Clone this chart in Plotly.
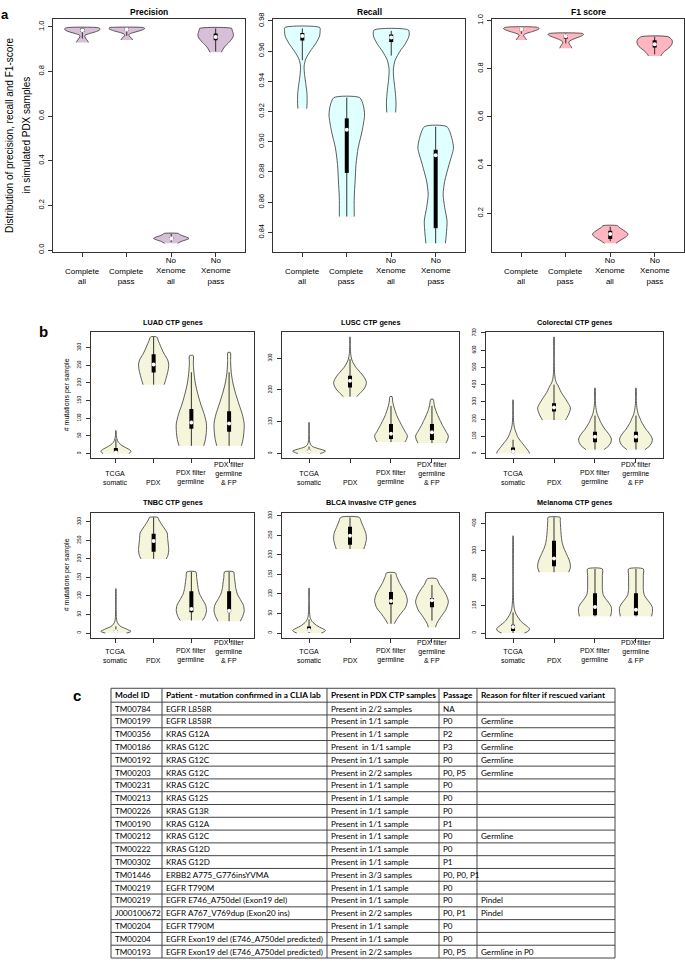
import plotly.graph_objects as go

W, H = 685, 962

# ------------------------------------------------------------------ data
A_CATS = ["Complete<br>all", "Complete<br>pass", "No<br>Xenome<br>all", "No<br>Xenome<br>pass"]
B_CATS = ["TCGA<br>somatic", "PDX", "PDX filter<br>germline", "PDX filter<br>germline<br>& FP"]

# panel a: violin profiles (value levels, relative half-widths) and box stats [whisker lo, q1, median, q3, whisker hi]
PREC_Y = [[0.930, 0.937, 0.945, 0.955, 0.962, 0.970, 0.978, 0.986, 0.991, 0.996],
          [0.941, 0.948, 0.955, 0.962, 0.968, 0.975, 0.983, 0.990, 0.994, 0.997],
          [0.030, 0.038, 0.046, 0.052, 0.058, 0.065, 0.070, 0.074],
          [0.886, 0.895, 0.905, 0.915, 0.925, 0.935, 0.945, 0.955, 0.965, 0.975, 0.985, 0.993]]
PREC_W = [[0.34, 0.30, 0.22, 0.14, 0.15, 0.40, 0.75, 0.97, 1.00, 0.90],
          [0.33, 0.28, 0.18, 0.12, 0.15, 0.40, 0.75, 0.98, 1.00, 0.92],
          [0.37, 0.55, 0.85, 1.00, 0.85, 0.60, 0.47, 0.42],
          [0.32, 0.38, 0.45, 0.55, 0.68, 0.80, 0.90, 0.98, 1.00, 0.97, 0.93, 0.90]]
PREC_BOX = [[0.948, 0.978, 0.985, 0.993, 0.996],
            [0.960, 0.982, 0.988, 0.994, 0.997],
            [0.035, 0.048, 0.052, 0.058, 0.072],
            [0.890, 0.940, 0.955, 0.970, 0.993]]

REC_Y = [[0.922, 0.927, 0.932, 0.938, 0.944, 0.950, 0.955, 0.960, 0.965, 0.970, 0.973, 0.9756],
         [0.8505, 0.863, 0.874, 0.885, 0.896, 0.907, 0.9177, 0.924, 0.9292],
         [0.9194, 0.925, 0.930, 0.936, 0.942, 0.948, 0.954, 0.960, 0.965, 0.970, 0.9739],
         [0.8328, 0.839, 0.8476, 0.8564, 0.8652, 0.874, 0.8848, 0.8958, 0.9023, 0.910]]
REC_W = [[0.25, 0.27, 0.26, 0.20, 0.13, 0.10, 0.20, 0.45, 0.75, 0.97, 1.00, 0.98],
         [0.42, 0.42, 0.47, 0.52, 0.64, 0.86, 1.00, 0.93, 0.73],
         [0.25, 0.27, 0.25, 0.20, 0.14, 0.12, 0.22, 0.50, 0.80, 1.00, 0.97],
         [0.55, 0.60, 0.64, 0.51, 0.42, 0.51, 0.75, 1.00, 0.91, 0.63]]
REC_BOX = [[0.954, 0.967, 0.970, 0.972, 0.975],
           [0.8505, 0.8794, 0.908, 0.9155, 0.9292],
           [0.957, 0.966, 0.969, 0.971, 0.9734],
           [0.8328, 0.8428, 0.891, 0.8947, 0.910]]

F1_Y = [[0.919, 0.925, 0.932, 0.940, 0.947, 0.953, 0.960, 0.966, 0.971],
        [0.885, 0.892, 0.900, 0.907, 0.914, 0.922, 0.929, 0.936, 0.942, 0.946],
        [0.076, 0.085, 0.095, 0.105, 0.115, 0.125, 0.135, 0.142, 0.149],
        [0.853, 0.862, 0.872, 0.882, 0.892, 0.902, 0.912, 0.922, 0.933]]
F1_W = [[0.29, 0.25, 0.17, 0.12, 0.30, 0.57, 0.85, 1.00, 0.95],
        [0.34, 0.30, 0.23, 0.17, 0.20, 0.40, 0.64, 0.88, 1.00, 0.95],
        [0.32, 0.50, 0.72, 0.92, 1.00, 0.85, 0.65, 0.50, 0.41],
        [0.35, 0.42, 0.55, 0.72, 0.88, 0.97, 1.00, 0.95, 0.75]]
F1_BOX = [[0.945, 0.958, 0.964, 0.968, 0.971],
          [0.905, 0.925, 0.935, 0.940, 0.946],
          [0.085, 0.094, 0.115, 0.128, 0.145],
          [0.860, 0.888, 0.902, 0.918, 0.933]]

# panel b: # mutations per sample
LUAD_Y = [[0, 4, 7, 11, 15, 19, 23, 28, 33, 41, 51, 65],
          [195, 206, 225, 240, 253, 265, 281, 293, 305, 318, 330],
          [22, 40, 60, 84, 110, 140, 170, 200, 230, 255, 277],
          [22, 40, 60, 84, 110, 140, 170, 200, 230, 260, 286]]
LUAD_W = [[0.85, 0.97, 1.0, 0.9, 0.73, 0.55, 0.4, 0.25, 0.15, 0.07, 0.03, 0.01],
          [0.70, 0.78, 0.90, 0.98, 1.0, 0.93, 0.71, 0.57, 0.45, 0.32, 0.20],
          [0.82, 0.93, 0.99, 1.0, 0.86, 0.62, 0.42, 0.26, 0.17, 0.13, 0.12],
          [0.82, 0.92, 0.98, 1.0, 0.88, 0.65, 0.43, 0.25, 0.14, 0.10, 0.08]]
LUAD_BOX = [[0, 1, 3, 16, 40], [195, 229, 252, 281, 330], [22, 70, 88, 126, 230], [22, 62, 85, 120, 230]]

LUSC_Y = [[0, 4, 8, 12, 17, 21, 25, 30, 40, 60, 98],
          [179, 190, 203, 215, 224, 235, 248, 260, 272, 285, 297, 315, 340, 367],
          [36, 45, 56, 70, 88, 104, 119, 135, 150, 165, 179],
          [33, 43, 55, 70, 88, 104, 119, 135, 150, 171]]
LUSC_W = [[0.68, 0.9, 1.0, 0.8, 0.47, 0.25, 0.15, 0.08, 0.03, 0.012, 0.005],
          [0.40, 0.62, 0.85, 0.97, 1.0, 0.92, 0.75, 0.55, 0.35, 0.2, 0.1, 0.04, 0.015, 0.008],
          [0.85, 0.95, 1.0, 0.85, 0.66, 0.5, 0.36, 0.25, 0.16, 0.1, 0.07],
          [0.85, 0.95, 1.0, 0.85, 0.65, 0.5, 0.36, 0.24, 0.15, 0.07]]
LUSC_BOX = [[0, 4, 7, 12, 22], [179, 208, 229, 245, 297], [36, 46, 62, 93, 150], [33, 43, 67, 93, 150]]

CRC_Y = [[0, 10, 27, 40, 56, 70, 85, 100, 123, 145, 170, 220, 312],
         [194, 210, 229, 250, 267, 290, 315, 335, 354, 375, 392, 410, 430, 470, 546, 677],
         [23, 35, 46, 65, 85, 105, 125, 142, 165, 185, 200, 225, 258, 300, 381],
         [23, 35, 46, 65, 85, 105, 125, 142, 165, 185, 200, 225, 258, 300, 381]]
CRC_W = [[1.0, 0.97, 0.84, 0.73, 0.6, 0.48, 0.36, 0.27, 0.18, 0.1, 0.05, 0.015, 0.005],
         [0.7, 0.8, 0.9, 0.98, 1.0, 0.88, 0.72, 0.58, 0.45, 0.34, 0.26, 0.15, 0.08, 0.03, 0.012, 0.006],
         [0.55, 0.72, 0.85, 0.97, 1.0, 0.9, 0.75, 0.6, 0.45, 0.33, 0.27, 0.15, 0.07, 0.025, 0.008],
         [0.55, 0.72, 0.85, 0.97, 1.0, 0.9, 0.75, 0.6, 0.45, 0.33, 0.27, 0.15, 0.07, 0.025, 0.008]]
CRC_BOX = [[0, 5, 12, 35, 80], [194, 244, 267, 292, 400], [23, 65, 98, 127, 220], [23, 65, 98, 127, 220]]

TNBC_Y = [[0, 3, 5, 8, 12, 16, 20, 30, 45, 70, 120],
          [200, 210, 225, 240, 255, 270, 280, 295, 305, 312],
          [34, 45, 60, 75, 90, 105, 120, 135, 150, 165],
          [32, 45, 60, 75, 90, 105, 120, 135, 150, 165]]
TNBC_W = [[0.7, 0.95, 1.0, 0.85, 0.65, 0.4, 0.25, 0.08, 0.03, 0.012, 0.005],
          [0.84, 0.95, 1.0, 0.97, 0.93, 0.9, 0.75, 0.5, 0.35, 0.27],
          [0.74, 0.9, 1.0, 0.95, 0.75, 0.55, 0.45, 0.4, 0.35, 0.3],
          [0.74, 0.9, 1.0, 0.95, 0.75, 0.55, 0.45, 0.4, 0.35, 0.3]]
TNBC_BOX = [[0, 2, 5, 8, 18], [200, 219, 248, 268, 312], [34, 56, 65, 113, 165], [32, 56, 60, 113, 165]]

BLCA_Y = [[0, 4, 7, 11, 15, 20, 25, 30, 40, 55, 80, 115],
          [215, 225, 240, 255, 265, 275, 285, 296],
          [24, 35, 50, 65, 83, 100, 115, 130, 145, 154],
          [15, 25, 40, 60, 80, 95, 110, 125, 139]]
BLCA_W = [[0.75, 0.95, 1.0, 0.85, 0.65, 0.45, 0.3, 0.18, 0.07, 0.03, 0.012, 0.005],
          [0.84, 0.92, 1.0, 0.97, 0.88, 0.78, 0.68, 0.57],
          [0.2, 0.35, 0.6, 0.88, 1.0, 0.9, 0.7, 0.5, 0.35, 0.27],
          [0.22, 0.3, 0.52, 0.85, 1.0, 0.9, 0.7, 0.45, 0.28]]
BLCA_BOX = [[0, 5, 8, 17, 35], [215, 226, 249, 272, 296], [24, 74, 82, 105, 150], [32, 66, 84, 90, 123]]

MEL_Y = [[0, 8, 16, 25, 35, 45, 58, 70, 85, 110, 150, 200, 355],
         [222, 240, 255, 270, 290, 310, 330, 350, 370, 390, 410, 422],
         [61, 75, 94, 110, 125, 140, 160, 190, 210, 234],
         [61, 75, 94, 110, 125, 140, 160, 190, 210, 234]]
MEL_W = [[0.7, 0.95, 1.0, 0.85, 0.63, 0.45, 0.3, 0.18, 0.09, 0.04, 0.015, 0.008, 0.004],
         [0.9, 1.0, 0.98, 0.9, 0.75, 0.6, 0.5, 0.45, 0.42, 0.4, 0.38, 0.37],
         [0.95, 1.0, 1.0, 0.85, 0.65, 0.5, 0.45, 0.45, 0.45, 0.45],
         [0.95, 1.0, 1.0, 0.85, 0.65, 0.5, 0.45, 0.45, 0.45, 0.45]]
MEL_BOX = [[0, 8, 22, 30, 75], [222, 244, 272, 337, 422], [61, 65, 95, 145, 234], [61, 65, 85, 145, 234]]

# panel c table
TABLE_HEADERS = ["Model ID", "Patient - mutation confirmed in a CLIA lab", "Present in PDX CTP samples",
                 "Passage", "Reason for filter if rescued variant"]
MODEL_IDS = ["TM00784", "TM00199", "TM00356", "TM00186", "TM00192", "TM00203", "TM00231", "TM00213",
             "TM00226", "TM00190", "TM00212", "TM00222", "TM00302", "TM01446", "TM00219", "TM00219",
             "J000100672", "TM00204", "TM00204", "TM00193"]
MUTATIONS = ["EGFR L858R", "EGFR L858R", "KRAS G12A", "KRAS G12C", "KRAS G12C", "KRAS G12C", "KRAS G12C",
             "KRAS G12S", "KRAS G13R", "KRAS G12A", "KRAS G12C", "KRAS G12D", "KRAS G12D",
             "ERBB2 A775_G776insYVMA", "EGFR T790M", "EGFR E746_A750del (Exon19 del)",
             "EGFR A767_V769dup (Exon20 ins)", "EGFR T790M", "EGFR Exon19 del (E746_A750del predicted)",
             "EGFR Exon19 del (E746_A750del predicted)"]
PRESENT = ["Present in 2/2 samples", "Present in 1/1 sample", "Present in 1/1 sample", "Present  in 1/1 sample",
           "Present in 1/1 sample", "Present in 2/2 samples", "Present in 1/1 sample", "Present in 1/1 sample",
           "Present in 1/1 sample", "Present in 1/1 sample", "Present in 1/1 sample", "Present in 1/1 sample",
           "Present in 1/1 sample", "Present in 3/3 samples", "Present in 1/1 sample", "Present in 1/1 sample",
           "Present in 2/2 samples", "Present in 1/1 sample", "Present in 1/1 sample", "Present in 2/2 samples"]
PASSAGE = ["NA", "P0", "P2", "P3", "P0", "P0, P5", "P0", "P0", "P0", "P1", "P0", "P0", "P1", "P0, P0, P1",
           "P0", "P0", "P0, P1", "P0", "P0", "P0, P5"]
REASON = ["", "Germline", "Germline", "Germline", "Germline", "Germline", "", "", "", "", "Germline", "", "",
          "", "", "Pindel", "Pindel", "", "", "Germline in P0"]

# ------------------------------------------------------------------ layout constants (pixels)
FONT = "Liberation Sans"
WEX = 0.4
OUTLINE = "#333333"

PANELS = [
    # title, ys, ws, boxes, fill, frame(x0,x1,y0,y1), tickvals, tickformat, cats, group
    ("Precision", PREC_Y, PREC_W, PREC_BOX, "#d8bfd8", (53, 245, 13, 248), [0, 0.2, 0.4, 0.6, 0.8, 1.0], ".1f", A_CATS, "a"),
    ("Recall", REC_Y, REC_W, REC_BOX, "#e0ffff", (273, 465, 13, 248), [0.84, 0.86, 0.88, 0.90, 0.92, 0.94, 0.96, 0.98], ".2f", A_CATS, "a"),
    ("F1 score", F1_Y, F1_W, F1_BOX, "#ffb6c1", (492, 684, 13, 248), [0.2, 0.4, 0.6, 0.8, 1.0], ".1f", A_CATS, "a"),
    ("LUAD CTP genes", LUAD_Y, LUAD_W, LUAD_BOX, "#f5f5dc", (91, 254, 329, 456), list(range(0, 301, 50)), "d", B_CATS, "b1"),
    ("LUSC CTP genes", LUSC_Y, LUSC_W, LUSC_BOX, "#f5f5dc", (282, 459, 329, 456), list(range(0, 301, 100)), "d", B_CATS, "b1"),
    ("Colorectal CTP genes", CRC_Y, CRC_W, CRC_BOX, "#f5f5dc", (486, 663, 329, 456), list(range(0, 701, 100)), "d", B_CATS, "b1"),
    ("TNBC CTP genes", TNBC_Y, TNBC_W, TNBC_BOX, "#f5f5dc", (91, 254, 511, 637), list(range(0, 301, 50)), "d", B_CATS, "b2"),
    ("BLCA invasive CTP genes", BLCA_Y, BLCA_W, BLCA_BOX, "#f5f5dc", (282, 459, 511, 637), list(range(0, 301, 50)), "d", B_CATS, "b2"),
    ("Melanoma CTP genes", MEL_Y, MEL_W, MEL_BOX, "#f5f5dc", (486, 663, 511, 637), list(range(0, 401, 100)), "d", B_CATS, "b2"),
]


def fx(p):
    return p / W


def fy(p):
    return 1 - p / H


fig = go.Figure()
annotations = []
shapes = []
layout = {}

for i, (title, ys_all, ws_all, boxes, fill, frame, tv, tf, cats, grp) in enumerate(PANELS, start=1):
    xa = "x" if i == 1 else f"x{i}"
    ya = "y" if i == 1 else f"y{i}"
    x0, x1, y0, y1 = frame
    lo = min(min(v) for v in ys_all)
    hi = max(max(v) for v in ys_all)
    pad = 0.04 * (hi - lo)
    is_a = grp == "a"
    tickfont = 7.5 if is_a else 4.8
    common = dict(showline=True, linecolor="#333333", linewidth=1, mirror=True, showgrid=False,
                  zeroline=False, ticks="outside", tickcolor="#333333", ticklen=4, tickwidth=1)
    layout["xaxis" if i == 1 else f"xaxis{i}"] = dict(
        domain=[fx(x0), fx(x1)], anchor=ya, range=[0.34, 4.66], tickvals=[1, 2, 3, 4],
        showticklabels=False, fixedrange=True, **common)
    layout["yaxis" if i == 1 else f"yaxis{i}"] = dict(
        domain=[fy(y1), fy(y0)], anchor=xa, range=[lo - pad, hi + pad], tickvals=tv,
        tickformat=tf, tickangle=-90, tickfont=dict(family=FONT, size=tickfont, color="black"),
        ticklabelstandoff=1 if is_a else 3, fixedrange=True, **common)

    for k in range(4):
        pos = k + 1
        ys, ws = ys_all[k], ws_all[k]
        xs = [pos + WEX * w for w in ws] + [pos - WEX * w for w in reversed(ws)]
        yy = list(ys) + list(reversed(ys))
        fig.add_trace(go.Scatter(x=xs, y=yy, xaxis=xa, yaxis=ya, mode="lines", fill="toself",
                                 fillcolor=fill, line=dict(color=OUTLINE, width=0.8, shape="spline", smoothing=0.7),
                                 hoverinfo="skip", showlegend=False))
        wlo, q1, med, q3, whi = boxes[k]
        fig.add_trace(go.Scatter(x=[pos, pos], y=[wlo, whi], xaxis=xa, yaxis=ya, mode="lines",
                                 line=dict(color="black", width=0.8), hoverinfo="skip", showlegend=False))
        fig.add_trace(go.Scatter(x=[pos, pos], y=[q1, q3], xaxis=xa, yaxis=ya, mode="lines",
                                 line=dict(color="black", width=4), hoverinfo="skip", showlegend=False))
        fig.add_trace(go.Scatter(x=[pos], y=[med], xaxis=xa, yaxis=ya, mode="markers",
                                 marker=dict(color="white", size=4, line=dict(width=0)),
                                 hoverinfo="skip", showlegend=False))
        # category labels (bottom aligned like R's mtext)
        bottom = {"a": 283, "b1": 485, "b2": 665}[grp]
        annotations.append(dict(text=cats[k], xref=xa, x=pos, yref="paper", y=fy(bottom), yanchor="bottom",
                                xanchor="center", showarrow=False, borderpad=0,
                                font=dict(family=FONT, size=8 if is_a else 7, color="black")))

    if is_a:
        annotations.append(dict(text=f"<b>{title}</b>", xref="paper", x=fx((x0 + x1) / 2), yref="paper", y=1,
                                xanchor="center", yanchor="top", borderpad=0, showarrow=False,
                                font=dict(family=FONT, size=8.5, color="black")))
    else:
        ty = {"b1": 319, "b2": 501}[grp]
        annotations.append(dict(text=f"<b>{title}</b>", xref="paper", x=fx((x0 + x1) / 2), yref="paper", y=fy(ty),
                                xanchor="center", yanchor="middle", showarrow=False,
                                font=dict(family=FONT, size=7.3, color="black")))

# axis titles
annotations.append(dict(text="Distribution of precision, recall and F1-score", xref="paper", x=fx(10),
                        yref="paper", y=fy(130), textangle=-90, xanchor="center", yanchor="middle",
                        showarrow=False, font=dict(family=FONT, size=10, color="black")))
annotations.append(dict(text="in simulated PDX samples", xref="paper", x=fx(26.5),
                        yref="paper", y=fy(130), textangle=-90, xanchor="center", yanchor="middle",
                        showarrow=False, font=dict(family=FONT, size=10, color="black")))
for cy in (392.5, 574):
    annotations.append(dict(text="# mutations per sample", xref="paper", x=fx(67), yref="paper", y=fy(cy),
                            textangle=-90, xanchor="center", yanchor="middle", showarrow=False,
                            font=dict(family=FONT, size=7, color="black")))

# panel letters
annotations.append(dict(text="<b>a</b>", xref="paper", x=0, yref="paper", y=1, xanchor="left",
                        yanchor="top", borderpad=0, showarrow=False,
                        font=dict(family=FONT, size=13, color="black")))
for letter, lx, ly in (("b", 43, 328), ("c", 77, 695)):
    annotations.append(dict(text=f"<b>{letter}</b>", xref="paper", x=fx(lx), yref="paper", y=fy(ly),
                            xanchor="center", yanchor="middle", showarrow=False,
                            font=dict(family=FONT, size=15, color="black")))

# ------------------------------------------------------------------ table (panel c)
COL_EDGES = [111, 162, 327, 439, 477, 615]
T_TOP, HEAD_H, ROW_H = 688, 14, 12.9
TFONT = "Lato"
n_rows = len(MODEL_IDS)
row_edges = [T_TOP, T_TOP + HEAD_H] + [T_TOP + HEAD_H + ROW_H * (r + 1) for r in range(n_rows)]
for yy in row_edges:
    shapes.append(dict(type="line", xref="paper", yref="paper", x0=fx(COL_EDGES[0]), x1=fx(COL_EDGES[-1]),
                       y0=fy(yy), y1=fy(yy), line=dict(color="#444444", width=1)))
for xx in COL_EDGES:
    shapes.append(dict(type="line", xref="paper", yref="paper", x0=fx(xx), x1=fx(xx),
                       y0=fy(row_edges[0]), y1=fy(row_edges[-1]), line=dict(color="#444444", width=1)))

columns = [MODEL_IDS, MUTATIONS, PRESENT, PASSAGE, REASON]
for c, head in enumerate(TABLE_HEADERS):
    annotations.append(dict(text=f"<b>{head}</b>", xref="paper", x=fx(COL_EDGES[c] + 1.5), yref="paper",
                            y=fy(T_TOP + HEAD_H / 2), xanchor="left", yanchor="middle", showarrow=False,
                            font=dict(family=TFONT, size=8.3, color="black")))
    for r, val in enumerate(columns[c]):
        if not val:
            continue
        cy = T_TOP + HEAD_H + ROW_H * (r + 0.5)
        annotations.append(dict(text=val, xref="paper", x=fx(COL_EDGES[c] + 1.5), yref="paper", y=fy(cy),
                                xanchor="left", yanchor="middle", showarrow=False,
                                font=dict(family=TFONT, size=8.1, color="black")))

fig.update_layout(width=W, height=H, margin=dict(l=0, r=0, t=0, b=0), paper_bgcolor="white",
                  plot_bgcolor="white", showlegend=False, annotations=annotations, shapes=shapes, **layout)

fig.write_html("out.html", config={"displayModeBar": False},
               post_script="document.body.style.margin='0px';document.body.style.overflow='hidden';")
